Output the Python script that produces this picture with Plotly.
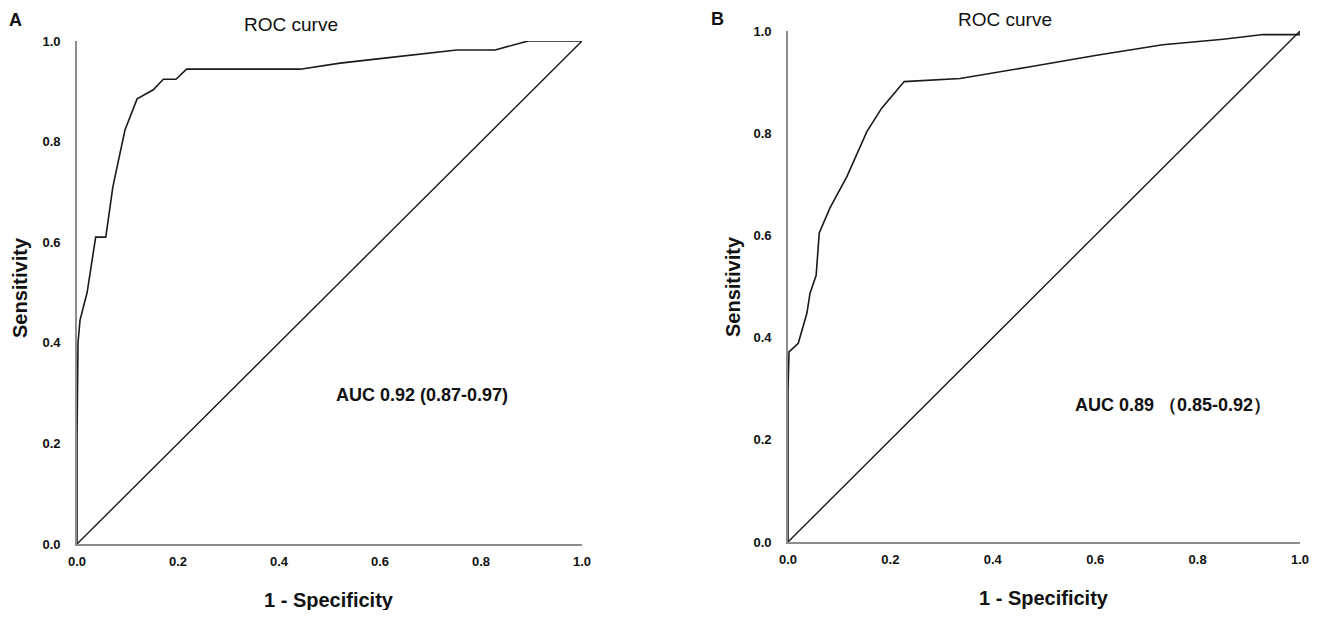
import plotly.graph_objects as go

# ROC curve A
fpr_a = [0.0, 0.0, 0.002, 0.006, 0.02, 0.037, 0.057, 0.071, 0.095, 0.119, 0.151,
         0.171, 0.196, 0.217, 0.442, 0.521, 0.60, 0.752, 0.828, 0.893, 1.0]
tpr_a = [0.0, 0.21, 0.40, 0.445, 0.50, 0.61, 0.61, 0.71, 0.823, 0.885, 0.903,
         0.924, 0.924, 0.944, 0.944, 0.956, 0.965, 0.982, 0.982, 1.0, 1.0]

# ROC curve B
fpr_b = [0.0, 0.0, 0.002, 0.02, 0.037, 0.043, 0.055, 0.061, 0.082, 0.115, 0.154,
         0.183, 0.227, 0.336, 0.473, 0.60, 0.732, 0.85, 0.928, 1.0, 1.0]
tpr_b = [0.0, 0.297, 0.372, 0.389, 0.448, 0.487, 0.522, 0.605, 0.654, 0.715, 0.803,
         0.849, 0.901, 0.907, 0.93, 0.952, 0.973, 0.984, 0.993, 0.993, 1.0]

ref_line = [0.0, 1.0]
tick_vals = [0.0, 0.2, 0.4, 0.6, 0.8, 1.0]
tick_text = ['<b>0.0</b>', '<b>0.2</b>', '<b>0.4</b>', '<b>0.6</b>', '<b>0.8</b>', '<b>1.0</b>']

auc_a = 'AUC 0.92 (0.87-0.97)'
auc_b = 'AUC 0.89 （0.85-0.92）'

FONT = 'Liberation Sans, Arial, sans-serif'
# page body has an 8px margin, so the figure is a bit smaller than the window
OFF = 8
W, H = 1325 - 2 * OFF, 618 - 2 * OFF

fig = go.Figure()

for fx, fy, ax in [(fpr_a, tpr_a, ''), (fpr_b, tpr_b, '2')]:
    fig.add_trace(go.Scatter(x=fx, y=fy, mode='lines', xaxis='x' + ax, yaxis='y' + ax,
                             line=dict(color='#1a1a1a', width=1.6), hoverinfo='skip'))
    fig.add_trace(go.Scatter(x=ref_line, y=ref_line, mode='lines', xaxis='x' + ax, yaxis='y' + ax,
                             line=dict(color='#1a1a1a', width=1.4), hoverinfo='skip'))

axis_common = dict(range=[0, 1], tickvals=tick_vals, ticktext=tick_text,
                   showgrid=False, zeroline=False, showline=True,
                   linecolor='#8c8c8c', linewidth=1.6, ticks='',
                   tickfont=dict(family=FONT, size=13, color='#111'),
                   automargin=False, fixedrange=True)


def px_x(x):
    return (x - OFF) / W


def px_y(y):
    return 1 - (y - OFF) / H


# pixel positions (in the window) of the two plotting areas
a_px = (77, 582, 544, 41)
b_px = (788, 1300, 542, 31)


def dom(px):
    x0, x1, y0, y1 = px
    return [px_x(x0), px_x(x1)], [px_y(y0), px_y(y1)]


ax_dx, ax_dy = dom(a_px)
bx_dx, bx_dy = dom(b_px)

fig.update_layout(
    width=W, height=H,
    margin=dict(l=0, r=0, t=0, b=0),
    paper_bgcolor='white', plot_bgcolor='white',
    showlegend=False,
    xaxis=dict(domain=ax_dx, anchor='y', ticklabelstandoff=5, **axis_common),
    yaxis=dict(domain=ax_dy, anchor='x', ticklabelstandoff=12, **axis_common),
    xaxis2=dict(domain=bx_dx, anchor='y2', ticklabelstandoff=5, **axis_common),
    yaxis2=dict(domain=bx_dy, anchor='x2', ticklabelstandoff=12, **axis_common),
)


def px_ann(text, x, y, size, bold=False, angle=0, yanchor='middle'):
    fig.add_annotation(text='<b>%s</b>' % text if bold else text,
                       x=px_x(x), y=px_y(y), xref='paper', yref='paper',
                       showarrow=False, textangle=angle, xanchor='center', yanchor=yanchor,
                       borderpad=0, font=dict(family=FONT, size=size, color='#111'))


# panel letters and titles, pinned to the top edge
px_ann('A', 15, 9, 18, bold=True, yanchor='top')
px_ann('B', 717, 8, 18, bold=True, yanchor='top')
px_ann('ROC curve', 291, 13, 19, yanchor='top')
px_ann('ROC curve', 1005, 8, 19, yanchor='top')
# axis titles
px_ann('Sensitivity', 20, 288, 20, bold=True, angle=-90)
px_ann('Sensitivity', 733, 287, 20, bold=True, angle=-90)
px_ann('1 - Specificity', 329, 600, 20, bold=True)
px_ann('1 - Specificity', 1044, 598, 20, bold=True)

# AUC labels in data coordinates
fig.add_annotation(text='<b>%s</b>' % auc_a, x=0.683, y=0.296, xref='x', yref='y',
                   showarrow=False, font=dict(family=FONT, size=18, color='#111'))
fig.add_annotation(text='<b>%s</b>' % auc_b, x=0.752, y=0.268, xref='x2', yref='y2',
                   showarrow=False, font=dict(family=FONT, size=18, color='#111'))

fig.write_html('out.html')
